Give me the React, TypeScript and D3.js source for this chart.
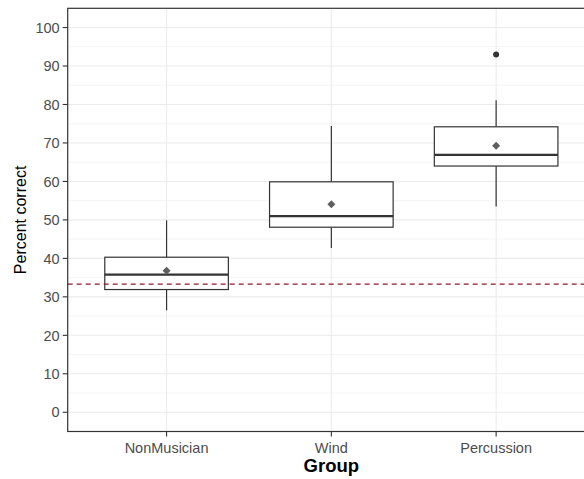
import React from 'react';
import { scaleLinear, scalePoint, range } from 'd3';

// summary stats
const groups = ['NonMusician', 'Wind', 'Percussion'];
const whiskerLow = [26.5, 42.7, 53.5];
const q1 = [31.9, 48.1, 64.0];
const medians = [35.8, 51.0, 66.9];
const q3 = [40.3, 59.9, 74.2];
const whiskerHigh = [49.9, 74.4, 81.1];
const means = [36.8, 54.1, 69.3];
const outliers = [[], [], [93.0]];
const chance = 33.33;
const yTicks = [0, 10, 20, 30, 40, 50, 60, 70, 80, 90, 100];

const W = 584;
const H = 479;
const panel = { left: 67.7, right: 595, top: 8.3, bottom: 431.5 };

export default function App() {
    const x = scalePoint<string>()
        .domain(groups)
        .range([panel.left, panel.right])
        .padding(0.6);
    const y = scaleLinear().domain([-5, 105]).range([panel.bottom, panel.top]);
    const boxW = x.step() * 0.75;
    const minor = range(5, 100, 10);
    const grey = '#333333';
    const font = '"Liberation Sans", Arial, sans-serif';

    return (
        <svg width={W} height={H} style={{ position: 'absolute', left: 0, top: 0 }} fontFamily={font}>
            <rect x={0} y={0} width={W} height={H} fill="#fff" />
            {/* grid */}
            {minor.map(v => (
                <line key={'m' + v} x1={panel.left} x2={panel.right} y1={y(v)} y2={y(v)} stroke="#F3F3F3" strokeWidth={0.8} />
            ))}
            {yTicks.map(v => (
                <line key={'g' + v} x1={panel.left} x2={panel.right} y1={y(v)} y2={y(v)} stroke="#EBEBEB" strokeWidth={1.1} />
            ))}
            {groups.map(g => (
                <line key={'v' + g} x1={x(g)} x2={x(g)} y1={panel.top} y2={panel.bottom} stroke="#EBEBEB" strokeWidth={1.1} />
            ))}
            {/* boxes */}
            {groups.map((g, i) => {
                const cx = x(g)!;
                return (
                    <g key={g}>
                        <line x1={cx} x2={cx} y1={y(q3[i])} y2={y(whiskerHigh[i])} stroke={grey} strokeWidth={1.2} />
                        <line x1={cx} x2={cx} y1={y(q1[i])} y2={y(whiskerLow[i])} stroke={grey} strokeWidth={1.2} />
                        <rect x={cx - boxW / 2} y={y(q3[i])} width={boxW} height={y(q1[i]) - y(q3[i])}
                            fill="#fff" stroke={grey} strokeWidth={1.2} />
                        <line x1={cx - boxW / 2} x2={cx + boxW / 2} y1={y(medians[i])} y2={y(medians[i])} stroke={grey} strokeWidth={2.3} />
                        {outliers[i].map((o, k) => (
                            <circle key={k} cx={cx} cy={y(o)} r={3} fill={grey} />
                        ))}
                    </g>
                );
            })}
            {/* chance line */}
            <line x1={panel.left} x2={panel.right} y1={y(chance)} y2={y(chance)} stroke="#8B1A2A" strokeWidth={1.2} strokeDasharray="5,4" />
            {/* means */}
            {groups.map((g, i) => {
                const cx = x(g)!;
                const cy = y(means[i]);
                const s = 4;
                return (
                    <path key={'mean' + g} d={`M${cx},${cy - s}L${cx + s},${cy}L${cx},${cy + s}L${cx - s},${cy}Z`} fill="#5E5E5E" />
                );
            })}
            {/* border */}
            <rect x={panel.left} y={panel.top} width={panel.right - panel.left} height={panel.bottom - panel.top}
                fill="none" stroke={grey} strokeWidth={1.2} />
            {/* y axis */}
            {yTicks.map(v => (
                <g key={'yt' + v}>
                    <line x1={panel.left - 5} x2={panel.left} y1={y(v)} y2={y(v)} stroke={grey} strokeWidth={1.1} />
                    <text x={panel.left - 8} y={y(v)} dy="0.36em" textAnchor="end" fontSize={14.5} fill="#4D4D4D">{v}</text>
                </g>
            ))}
            {/* x axis */}
            {groups.map(g => (
                <g key={'xt' + g}>
                    <line x1={x(g)} x2={x(g)} y1={panel.bottom} y2={panel.bottom + 5} stroke={grey} strokeWidth={1.1} />
                    <text x={x(g)} y={452.5} textAnchor="middle" fontSize={14.5} fill="#4D4D4D">{g}</text>
                </g>
            ))}
            <text x={(panel.left + panel.right) / 2} y={472} textAnchor="middle" fontSize={18.5} fontWeight="bold" fill="#000">Group</text>
            <text transform={`translate(25.5,${(panel.top + panel.bottom) / 2}) rotate(-90)`} textAnchor="middle" fontSize={16} fill="#000">Percent correct</text>
        </svg>
    );
}
